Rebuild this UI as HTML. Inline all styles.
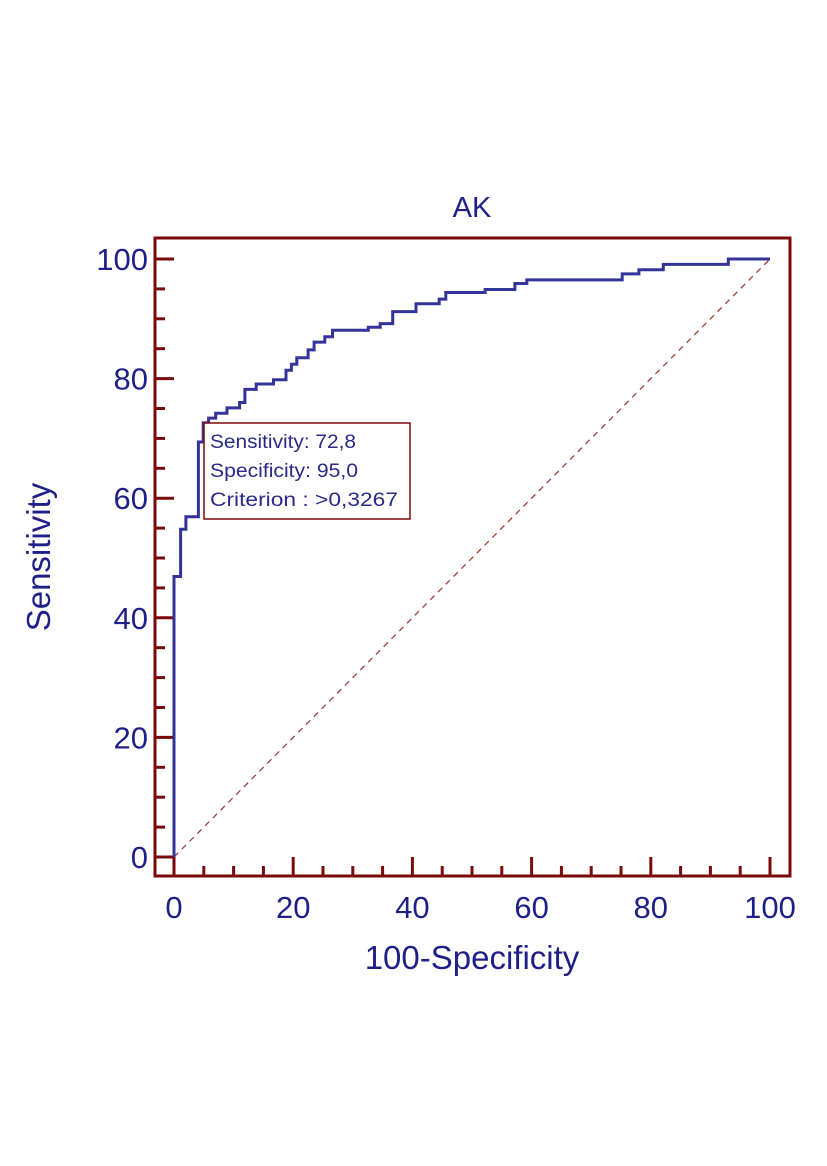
<!DOCTYPE html>
<html><head><meta charset="utf-8"><style>
body{margin:0;background:#fff;}
svg{display:block;font-family:"Liberation Sans",sans-serif;}
</style></head><body>
<svg id="chart" width="827" height="1166" viewBox="0 0 827 1166">
<text x="472" y="217" font-size="29" fill="#1f1f88" text-anchor="middle">AK</text>
<g id="ticks"></g>
<line id="diag" stroke="#a04040" stroke-width="1.3" stroke-dasharray="6,5"/>
<path id="curve" fill="none" stroke="#33339a" stroke-width="3"/>
<rect x="155" y="238" width="635" height="638" fill="none" stroke="#7a0a0a" stroke-width="3"/>
<g>
<rect x="204" y="423" width="206" height="96" fill="#fff" stroke="#7a0a0a" stroke-width="1.5"/>
<text x="210" y="448" font-size="19" fill="#2a2a8a" textLength="146" lengthAdjust="spacingAndGlyphs">Sensitivity: 72,8</text>
<text x="210" y="477" font-size="19" fill="#2a2a8a" textLength="148" lengthAdjust="spacingAndGlyphs">Specificity: 95,0</text>
<text x="210" y="506" font-size="19" fill="#2a2a8a" textLength="188" lengthAdjust="spacingAndGlyphs">Criterion : &gt;0,3267</text>
</g>
<text x="472" y="969" font-size="33" fill="#1f1f88" text-anchor="middle">100-Specificity</text>
<text transform="translate(50,557) rotate(-90)" font-size="33" fill="#1f1f88" text-anchor="middle">Sensitivity</text>
</svg>
<script>
const fprValues=[0,0,1.1,1.1,2.0,2.0,4.1,4.1,4.9,4.9,5.8,5.8,7.0,7.0,8.9,8.9,11.0,11.0,11.9,11.9,13.8,13.8,16.7,16.7,18.8,18.8,19.7,19.7,20.6,20.6,22.5,22.5,23.5,23.5,25.3,25.3,26.6,26.6,32.6,32.6,34.6,34.6,36.7,36.7,40.6,40.6,44.5,44.5,45.6,45.6,52.2,52.2,57.2,57.2,59.2,59.2,75.2,75.2,78.0,78.0,82.1,82.1,93.0,93.0,100];
const sensValues=[0,46.9,46.9,54.8,54.8,56.9,56.9,69.4,69.4,72.6,72.6,73.4,73.4,74.2,74.2,75.1,75.1,76.0,76.0,78.2,78.2,79.1,79.1,79.8,79.8,81.4,81.4,82.4,82.4,83.5,83.5,84.8,84.8,86.1,86.1,87.0,87.0,88.1,88.1,88.6,88.6,89.2,89.2,91.2,91.2,92.5,92.5,93.3,93.3,94.4,94.4,94.9,94.9,95.9,95.9,96.5,96.5,97.5,97.5,98.2,98.2,99.1,99.1,100,100];
const tickLabels=["0","20","40","60","80","100"];
const X=v=>174+v*5.96, Y=v=>857-v*5.98;
const ns="http://www.w3.org/2000/svg";
let d="";
for(let i=0;i<fprValues.length;i++)d+=(i?"L":"M")+X(fprValues[i]).toFixed(1)+","+Y(sensValues[i]).toFixed(1);
document.getElementById("curve").setAttribute("d",d);
const dg=document.getElementById("diag");
dg.setAttribute("x1",X(0));dg.setAttribute("y1",Y(0));dg.setAttribute("x2",X(100));dg.setAttribute("y2",Y(100));
const g=document.getElementById("ticks");
for(let v=0;v<=100;v+=5){
  const major=v%20===0,len=major?19:10;
  const lx=document.createElementNS(ns,"line");
  
  
  lx.setAttribute("x1",X(v));lx.setAttribute("x2",X(v));lx.setAttribute("y1",876);lx.setAttribute("y2",876-len);
  lx.setAttribute("stroke","#7a0a0a");lx.setAttribute("stroke-width","3");g.appendChild(lx);
  const ly=document.createElementNS(ns,"line");
  
  
  ly.setAttribute("y1",Y(v));ly.setAttribute("y2",Y(v));ly.setAttribute("x1",155);ly.setAttribute("x2",155+len);
  ly.setAttribute("stroke","#7a0a0a");ly.setAttribute("stroke-width","3");g.appendChild(ly);
}
tickLabels.forEach((t,i)=>{
  const v=i*20;
  const tx=document.createElementNS(ns,"text");
  
  
  tx.setAttribute("x",X(v));tx.setAttribute("y",918);tx.setAttribute("font-size","31");
  tx.setAttribute("fill","#1f1f88");tx.setAttribute("text-anchor","middle");tx.textContent=t;g.appendChild(tx);
  const ty=document.createElementNS(ns,"text");
  
  
  ty.setAttribute("x",148);ty.setAttribute("y",Y(v)+11);ty.setAttribute("font-size","31");
  ty.setAttribute("fill","#1f1f88");ty.setAttribute("text-anchor","end");ty.textContent=t;g.appendChild(ty);
});
</script>
</body></html>
